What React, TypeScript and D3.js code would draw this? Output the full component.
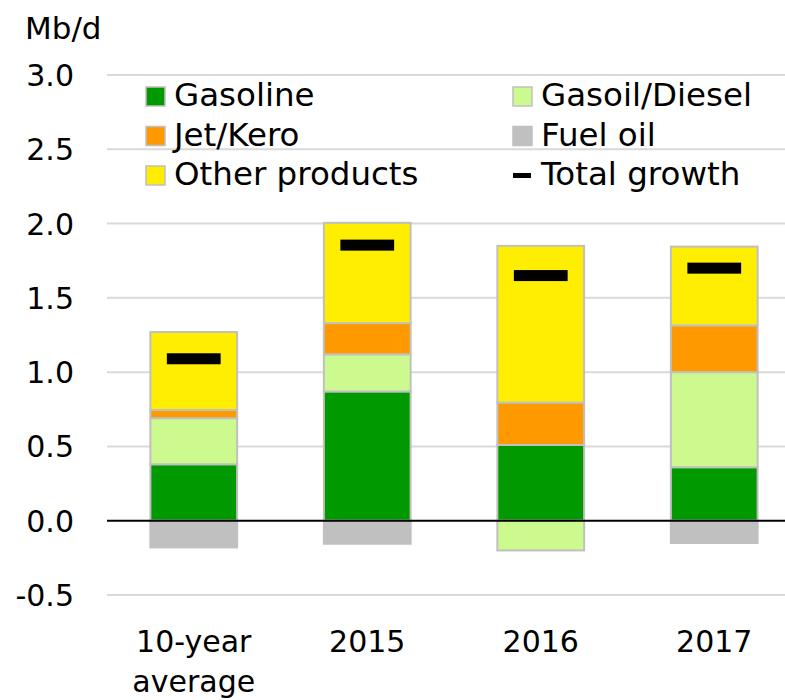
import React from "react";
import * as d3 from "d3";

const categories = ["10-year average", "2015", "2016", "2017"];
const categoryLines = [["10-year", "average"], ["2015"], ["2016"], ["2017"]];
const gasoline = [0.38, 0.87, 0.51, 0.36];
const gasoil = [0.31, 0.25, -0.2, 0.64];
const jetKero = [0.055, 0.21, 0.285, 0.315];
const fuelOil = [-0.18, -0.155, 0, -0.15];
const other = [0.525, 0.675, 1.055, 0.53];
const totalGrowth = [1.09, 1.855, 1.65, 1.7];
const yTicks = [-0.5, 0, 0.5, 1.0, 1.5, 2.0, 2.5, 3.0];

const seriesKeys = ["gasoline", "gasoil", "jet", "fuel", "other"];
const seriesNames: Record<string, string> = {
  gasoline: "Gasoline",
  gasoil: "Gasoil/Diesel",
  jet: "Jet/Kero",
  fuel: "Fuel oil",
  other: "Other products",
};
const colors: Record<string, string> = {
  gasoline: "#009900",
  gasoil: "#ccfa8e",
  jet: "#ff9900",
  fuel: "#c0c0c0",
  other: "#ffee00",
};

const FONT = "'DejaVu Sans', sans-serif";

export default function App() {
  const W = 785, H = 700;
  const x = d3.scaleBand<string>().domain(categories).range([107, 801]).paddingInner(0.5).paddingOuter(0.25);
  const y = d3.scaleLinear().domain([-0.5, 3.0]).range([595, 75]);

  const rows = categories.map((c, i) => ({
    cat: c,
    gasoline: gasoline[i],
    gasoil: gasoil[i],
    jet: jetKero[i],
    fuel: fuelOil[i],
    other: other[i],
  }));
  const stacked = d3.stack<any>().keys(seriesKeys).offset(d3.stackOffsetDiverging)(rows);
  const bw = x.bandwidth();
  const mw = bw * 0.62;

  const legendItems = [
    { key: "gasoline", lx: 146, ly: 106 },
    { key: "gasoil", lx: 513, ly: 106 },
    { key: "jet", lx: 146, ly: 145.5 },
    { key: "fuel", lx: 513, ly: 145.5 },
    { key: "other", lx: 146, ly: 185 },
  ];

  return (
    <svg width={W} height={H} style={{ position: "absolute", left: 0, top: 0, background: "#fff" }} fontFamily={FONT}>
      <text x={25} y={39} fontSize={31} fill="#000">Mb/d</text>
      {yTicks.map((t) => (
        <g key={t}>
          {t !== 0 && <line x1={107} x2={785} y1={y(t)} y2={y(t)} stroke="#d9d9d9" strokeWidth={2} />}
          <text x={74} y={y(t) + 11} fontSize={30} textAnchor="end" fill="#000">
            {t.toFixed(1)}
          </text>
        </g>
      ))}
      {stacked.map((s) =>
        s.map((d, i) => {
          const v0 = Math.min(d[0], d[1]);
          const v1 = Math.max(d[0], d[1]);
          if (v1 - v0 < 1e-9) return null;
          return (
            <rect
              key={s.key + i}
              x={x(categories[i])!}
              y={y(v1)}
              width={bw}
              height={y(v0) - y(v1)}
              fill={colors[s.key]}
              stroke="#c0c0c0"
              strokeWidth={2}
            />
          );
        })
      )}
      <line x1={107} x2={785} y1={y(0)} y2={y(0)} stroke="#000" strokeWidth={2} />
      {totalGrowth.map((t, i) => (
        <rect key={"t" + i} x={x(categories[i])! + (bw - mw) / 2} y={y(t) - 5.5} width={mw} height={11} fill="#000" />
      ))}
      {categoryLines.map((lines, i) => (
        <text key={"c" + i} x={x(categories[i])! + bw / 2} y={652} fontSize={30} textAnchor="middle" fill="#000">
          {lines.map((l, j) => (
            <tspan key={j} x={x(categories[i])! + bw / 2} dy={j === 0 ? 0 : 40}>
              {l}
            </tspan>
          ))}
        </text>
      ))}
      {legendItems.map((it) => (
        <g key={it.key}>
          <rect x={it.lx} y={it.ly - 19} width={19} height={19} fill={colors[it.key]} stroke="#c0c0c0" strokeWidth={1.5} />
          <text x={it.lx + 28} y={it.ly} fontSize={32.5} fill="#000">
            {seriesNames[it.key]}
          </text>
        </g>
      ))}
      <rect x={513} y={173} width={18} height={5} fill="#000" />
      <text x={541} y={185} fontSize={32.5} fill="#000">Total growth</text>
    </svg>
  );
}
